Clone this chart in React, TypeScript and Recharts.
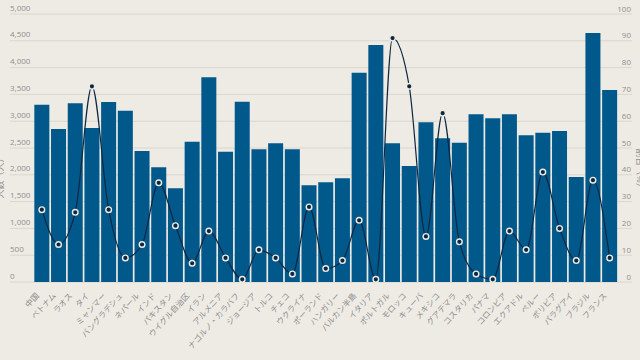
import React from "react";
import { ComposedChart, Bar, Line, XAxis, YAxis, CartesianGrid, Label } from "recharts";

const categories = [
  "中国", "ベトナム", "ラオス", "タイ", "ミャンマー", "バングラデシュ", "ネパール", "インド", "パキスタン", "ウイグル自治区",
  "イラン", "アルメニア", "ナゴルノ・カラバフ", "ジョージア", "トルコ", "チェコ", "ウクライナ", "ポーランド", "ハンガリー", "バルカン半島",
  "イタリア", "ポルトガル", "モロッコ", "キューバ", "メキシコ", "グアテマラ", "コスタリカ", "パナマ", "コロンビア", "エクアドル",
  "ペルー", "ボリビア", "パラグアイ", "ブラジル", "フランス",
];
const counts = [
  3308, 2855, 3335, 2874, 3359, 3197, 2444, 2140, 1748, 2618,
  3820, 2431, 3365, 2476, 2588, 2476, 1804, 1860, 1935, 3906,
  4422, 2588, 2165, 2980, 2681, 2600, 3129, 3054, 3129, 2737,
  2786, 2818, 1960, 4646, 3583,
];
const shares = [
  27, 14, 26, 73, 27, 9, 14, 37, 21, 7,
  19, 9, 1, 12, 9, 3, 28, 5, 8, 23,
  1, 91, 73, 17, 63, 15, 3, 1, 19, 12,
  41, 20, 8, 38, 9,
];
const leftTicks = [0, 500, 1000, 1500, 2000, 2500, 3000, 3500, 4000, 4500, 5000];
const rightTicks = [0, 10, 20, 30, 40, 50, 60, 70, 80, 90, 100];

const data = categories.map((name, i) => ({ name, count: counts[i], share: shares[i] }));

const BG = "#eeebe5";
const BAR = "#00588b";
const LINE = "#0e2841";
const TEXT = "#8e8e8e";
const FONT = "'Open Sans', 'Noto Sans CJK JP', sans-serif";

const fmt = (v: number) => v.toLocaleString("en-US");

const renderLeftTick = (props: any) => {
  const { y, payload, index } = props;
  return (
    <text key={`l${index}`} x={10} y={y - 3.5} fontSize={8} fill={TEXT} textAnchor="start" fontFamily={FONT}>
      {fmt(payload.value)}
    </text>
  );
};

const renderRightTick = (props: any) => {
  const { y, payload, index } = props;
  return (
    <text key={`r${index}`} x={631} y={y - 2.5} fontSize={8} fill={TEXT} textAnchor="end" fontFamily={FONT}>
      {payload.value}
    </text>
  );
};

const renderXTick = (props: any) => {
  const { x, payload, index } = props;
  const ax = x - 2.3;
  const ay = 296;
  return (
    <text
      key={`x${index}`}
      x={ax}
      y={ay}
      transform={`rotate(-48 ${ax} ${ay})`}
      textAnchor="end"
      fontSize={8}
      fill={TEXT}
      fontFamily={FONT}
    >
      {payload.value}
    </text>
  );
};

const Dot = (props: any) => {
  const { cx, cy, index } = props;
  if (cx == null || cy == null) return <g key={`d${index}`} />;
  return <circle key={`d${index}`} cx={cx} cy={cy} r={2.8} fill={LINE} stroke={BG} strokeWidth={1.4} />;
};

export default function App() {
  return (
    <div style={{ position: "absolute", left: 0, top: 0, width: 640, height: 360, background: BG, overflow: "hidden" }}>
      <ComposedChart width={640} height={360} data={data} margin={{ top: 14, right: 7, bottom: 0, left: 9 }} barCategoryGap="5%">
        <CartesianGrid yAxisId="left" vertical={false} stroke="#dad6cd" strokeWidth={1} />
        <XAxis
          dataKey="name"
          interval={0}
          height={78}
          axisLine={false}
          tickLine={false}
          tick={renderXTick}
          padding={{ left: 23.5, right: 14 }}
        />
        <YAxis
          yAxisId="left"
          orientation="left"
          width={1}
          domain={[0, 5000]}
          ticks={leftTicks}
          interval={0}
          axisLine={false}
          tickLine={false}
          tick={renderLeftTick}
        >
          <Label
            content={() => (
              <text x={3} y={176} transform="rotate(-90 3 176)" textAnchor="middle" fontSize={9} fill={TEXT} fontFamily={FONT}>
                人数（人）
              </text>
            )}
          />
        </YAxis>
        <YAxis
          yAxisId="right"
          orientation="right"
          width={1}
          domain={[0, 100]}
          ticks={rightTicks}
          interval={0}
          axisLine={false}
          tickLine={false}
          tick={renderRightTick}
        >
          <Label
            content={() => (
              <text x={637} y={170} transform="rotate(90 637 170)" textAnchor="middle" fontSize={9} fill={TEXT} fontFamily={FONT}>
                割合（%）
              </text>
            )}
          />
        </YAxis>
        <Bar yAxisId="left" dataKey="count" fill={BAR} isAnimationActive={false} />
        <Line
          yAxisId="right"
          dataKey="share"
          type="monotone"
          stroke={LINE}
          strokeWidth={1.2}
          dot={Dot}
          activeDot={false}
          isAnimationActive={false}
        />
      </ComposedChart>
    </div>
  );
}
